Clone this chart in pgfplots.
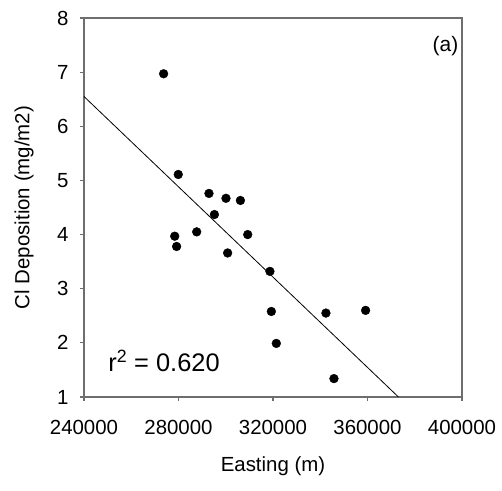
\documentclass[border=0pt]{standalone}
\usepackage{fontspec}
\setmainfont{Liberation Sans}
\usepackage{pgfplots}
\pgfplotsset{compat=1.18}
\definecolor{axgray}{HTML}{6E6E6E}

\begin{document}
\begin{tikzpicture}
\begin{axis}[
  name=ax,
  scale only axis,
  width=378bp, height=379bp,
  xmin=240000, xmax=400000,
  ymin=1, ymax=8,
  xtick={240000,280000,320000,360000,400000},
  xticklabels={240000,280000,320000,360000,400000},
  ytick={1,2,3,4,5,6,7,8},
  yticklabels={1,2,3,4,5,6,7,8},
  scaled x ticks=false,
  axis line style={axgray, line width=1.2bp},
  tick style={axgray, line width=1.2bp},
  tick align=outside,
  tick pos=left,
  major tick length=4bp,
  ticklabel style={font=\fontsize{20.5}{24}\selectfont},
  xticklabel style={yshift=-16bp},
  yticklabel style={xshift=-8bp},
  xlabel={Easting (m)},
  ylabel={Cl Deposition (mg/m2)},
  label style={font=\fontsize{20.5}{24}\selectfont},
  xlabel style={at={(rel axis cs:0.5,0)}, anchor=center, yshift=-69bp},
  ylabel style={at={(rel axis cs:0,0.5)}, anchor=center, yshift=60bp},
  clip=false,
]
\addplot[only marks, mark=*, mark size=4.4bp, black] coordinates {
(273700,6.97) (279900,5.11) (292900,4.76) (300100,4.67) (306200,4.63)
(295200,4.37) (287700,4.05) (309300,4.00) (278400,3.97) (279200,3.78)
(300800,3.66) (318700,3.32) (319300,2.58) (321400,1.99) (342400,2.55)
(359200,2.60) (345800,1.34)
};
\addplot[black, line width=0.8bp] coordinates {(240000,6.55) (373100,1.0)};
\node[anchor=center, font=\fontsize{21}{24}\selectfont] at (axis cs:393000,7.48) {(a)};
\node[anchor=base west, font=\fontsize{25.5}{28}\selectfont, inner sep=0pt] at (axis cs:250200,1.467) {r\textsuperscript{2} = 0.620};
\end{axis}
\pgfresetboundingbox
\path[use as bounding box] ([shift={(-84bp,-94bp)}]ax.south west) rectangle ([shift={(40bp,18bp)}]ax.north east);
\end{tikzpicture}
\end{document}
